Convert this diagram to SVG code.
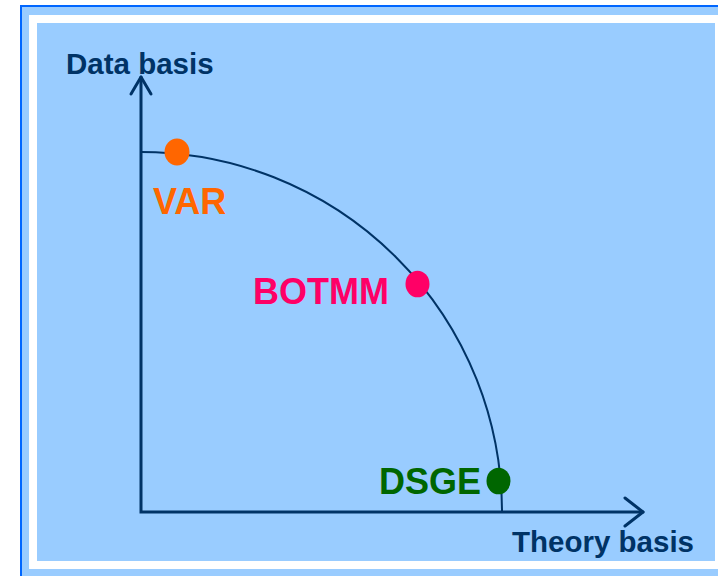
<svg xmlns="http://www.w3.org/2000/svg" width="718" height="576" viewBox="0 0 718 576">
  <style>
    .axis { fill: none; stroke: #003366; stroke-width: 3; stroke-linecap: round; stroke-linejoin: miter; }
    .head { fill: none; stroke: #003366; stroke-width: 3; stroke-linecap: round; stroke-linejoin: round; }
    .curve { fill: none; stroke: #003366; stroke-width: 2; }
    .title { font-family: "Liberation Sans", Arial, sans-serif; font-weight: bold; font-size: 29.5px; fill: #003366; }
    .label { font-family: "Liberation Sans", Arial, sans-serif; font-weight: bold; font-size: 36px; }
  </style>

  <!-- frame: outer line, white band, panel -->
  <rect x="0" y="0" width="718" height="576" fill="#ffffff"/>
  <rect x="21" y="6" width="710" height="580" fill="#99ccff" stroke="#0066ff" stroke-width="2"/>
  <rect x="29" y="15" width="700" height="554" fill="#ffffff"/>
  <rect x="37" y="23" width="678" height="538" fill="#99ccff"/>

  <!-- axes, frontier curve and arrowheads -->
  <g id="connectors">
    <polyline class="axis" points="141,77 141,512 643,512"/>
    <polyline class="head" points="131,94 141,77 151,94"/>
    <polyline class="head" points="625,498 643,512 625,526"/>
    <path class="curve" d="M141,152 A361,360 0 0 1 502,512"/>
  </g>

  <g id="axis-data">
    <text class="title" x="66" y="74">Data basis</text>
  </g>
  <g id="axis-theory">
    <text class="title" x="512" y="552">Theory basis</text>
  </g>

  <g id="var">
    <ellipse cx="177" cy="152" rx="12.5" ry="13.5" fill="#ff6600"/>
    <text class="label" x="153" y="214" fill="#ff6600">VAR</text>
  </g>
  <g id="botmm">
    <ellipse cx="417.5" cy="284" rx="12" ry="13.3" fill="#ff0066"/>
    <text class="label" x="253" y="304" fill="#ff0066">BOTMM</text>
  </g>
  <g id="dsge">
    <ellipse cx="498.5" cy="481" rx="12" ry="13.3" fill="#006600"/>
    <text class="label" x="379" y="494" fill="#006600">DSGE</text>
  </g>
</svg>
